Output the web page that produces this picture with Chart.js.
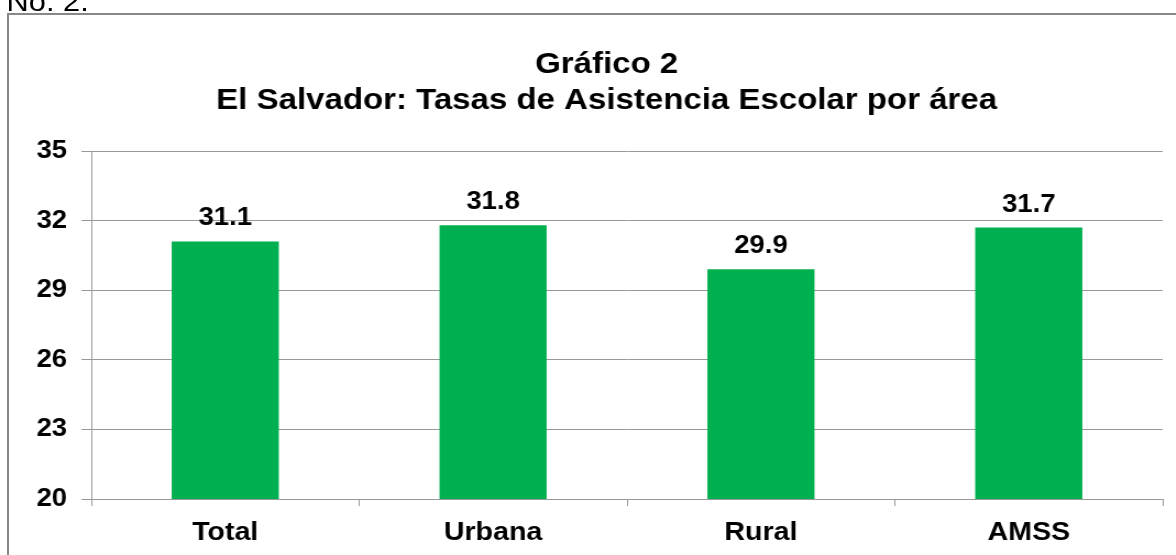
<!DOCTYPE html>
<html>
<head>
<meta charset="utf-8">
<script src="https://cdn.jsdelivr.net/npm/chart.js@4/dist/chart.umd.min.js"></script>
<style>
  html, body { margin: 0; padding: 0; background: #fff; overflow: hidden; }
  body { width: 1176px; height: 555px; position: relative; }
  #frame {
    position: absolute; left: 7px; top: 13px;
    width: 1300px; height: 700px;
    border: 2px solid #888;
  }
  /* the original picture is stretched a little in width */
  #wrap {
    position: absolute; left: 0; top: 0;
    width: 1069px; height: 555px;
    transform: scaleX(1.1); transform-origin: 0 0;
  }
  #note {
    position: absolute; left: 6px; top: -12px;
    font: 28px "Liberation Sans", Arial, sans-serif; line-height: 28px;
    color: #000; white-space: nowrap;
  }
  #graf { position: absolute; left: 0; top: 0; }
</style>
</head>
<body>
<div id="frame"></div>
<div id="wrap">
  <div id="note">No. 2.</div>
  <canvas id="graf" width="1069" height="555"></canvas>
</div>
<script>
const titulo = ["Gráfico 2", "El Salvador: Tasas de Asistencia Escolar por área"];
const areas = ["Total", "Urbana", "Rural", "AMSS"];
const tasas = [31.1, 31.8, 29.9, 31.7];
const yMin = 20, yMax = 35, yPaso = 3;

Chart.defaults.font.family = "'Liberation Sans', Arial, sans-serif";
Chart.defaults.color = "#000";

// values written above each bar
const etiquetas = {
  id: "etiquetas",
  afterDatasetsDraw(chart) {
    const ctx = chart.ctx;
    const meta = chart.getDatasetMeta(0);
    ctx.save();
    ctx.font = "bold 25px 'Liberation Sans', Arial, sans-serif";
    ctx.fillStyle = "#000";
    ctx.textAlign = "center";
    ctx.textBaseline = "alphabetic";
    meta.data.forEach((bar, i) => {
      ctx.fillText(tasas[i].toFixed(1), bar.x, bar.y - 16);
    });
    ctx.restore();
  }
};

// in the original the title is centred a bit left of the plot
const centrarTitulo = {
  id: "centrarTitulo",
  afterLayout(chart) {
    const t = chart.titleBlock;
    if (t) {
      t.left = 46;
      t.right = chart.chartArea.right;
    }
  }
};

new Chart(document.getElementById("graf"), {
  type: "bar",
  data: {
    labels: areas,
    datasets: [{
      data: tasas,
      backgroundColor: "#00b050",
      borderWidth: 0,
      barPercentage: 0.4,
      categoryPercentage: 1
    }]
  },
  options: {
    responsive: false,
    animation: false,
    layout: { padding: { left: 0, right: 12, top: 0, bottom: 7 } },
    plugins: {
      legend: { display: false },
      tooltip: { enabled: false },
      title: {
        display: true,
        text: titulo,
        color: "#000",
        font: { size: 30, weight: "bold", lineHeight: 1.217 },
        padding: { top: 46, bottom: 32 }
      }
    },
    scales: {
      x: {
        afterFit(scale) { scale.height = 49; },
        grid: { drawOnChartArea: false, drawTicks: true, tickLength: 7, color: "#999", offset: true },
        border: { color: "#999", width: 1 },
        ticks: { font: { size: 26, weight: "bold" }, padding: 11, color: "#000" }
      },
      y: {
        min: yMin,
        max: yMax,
        afterFit(scale) { scale.width = 83; },
        grid: { color: "#999", tickLength: 9, drawTicks: true },
        border: { color: "#999", width: 1 },
        ticks: { stepSize: yPaso, font: { size: 25, weight: "bold" }, padding: 13, color: "#000" }
      }
    }
  },
  plugins: [etiquetas, centrarTitulo]
});
</script>
</body>
</html>
